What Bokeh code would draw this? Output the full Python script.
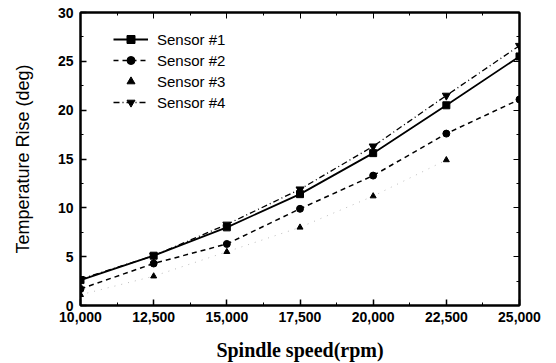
from bokeh.plotting import figure
from bokeh.models import LinearAxis, NumeralTickFormatter, Legend, LegendItem, FixedTicker
from bokeh.embed import file_html
from bokeh.resources import INLINE

speed = [10000, 12500, 15000, 17500, 20000, 22500, 25000]
sensor1 = [2.6, 5.1, 8.0, 11.4, 15.6, 20.5, 25.5]
sensor2 = [1.7, 4.3, 6.3, 9.9, 13.3, 17.6, 21.1]
speed3 = [10000, 12500, 15000, 17500, 20000, 22500]
sensor3 = [1.1, 3.0, 5.5, 8.0, 11.2, 14.9]
sensor4 = [2.7, 5.1, 8.3, 11.9, 16.3, 21.5, 26.6]
x_ticks = [10000, 12500, 15000, 17500, 20000, 22500, 25000]
x_minor = [11250, 13750, 16250, 18750, 21250, 23750]
y_ticks = [0, 5, 10, 15, 20, 25, 30]
y_minor = [2.5, 7.5, 12.5, 17.5, 22.5, 27.5]

p = figure(width=556, height=363, output_backend="svg", toolbar_location=None,
           x_range=(10000, 25000), y_range=(0, 30),
           min_border_left=80, min_border_right=37, min_border_top=12, min_border_bottom=57)
p.background_fill_color = "white"
p.border_fill_color = "white"
p.outline_line_color = "black"
p.outline_line_width = 2
p.grid.visible = False

r1l = p.line(speed, sensor1, line_color="black", line_width=1.8)
r1m = p.scatter(speed, sensor1, marker="square", size=7, color="black")
r2l = p.line(speed, sensor2, line_color="black", line_width=1.5, line_dash="5 4")
r2m = p.scatter(speed, sensor2, marker="circle", size=7, color="black")
r3l = p.line(speed3, sensor3, line_color="#bbbbbb", line_width=1, line_dash="1 6")
r3m = p.scatter(speed3, sensor3, marker="triangle", size=6, color="black")
r4l = p.line(speed, sensor4, line_color="black", line_width=1.3, line_dash="6 3 1 3")
r4m = p.scatter(speed, sensor4, marker="inverted_triangle", size=8, color="black")

for ax in [p.xaxis[0], p.yaxis[0]]:
    ax.axis_line_width = 2
    ax.major_tick_in = 6
    ax.major_tick_out = 0
    ax.minor_tick_in = 3
    ax.minor_tick_out = 0
    ax.major_tick_line_width = 1.5
    ax.major_label_text_font = "Liberation Sans"
    ax.major_label_text_font_size = "14px"
    ax.major_label_text_color = "black"
    ax.major_label_text_font_style = "bold"

p.xaxis[0].ticker = FixedTicker(ticks=x_ticks, minor_ticks=x_minor)
p.xaxis[0].formatter = NumeralTickFormatter(format="0,0")
p.xaxis[0].major_label_standoff = 6
p.xaxis[0].axis_label = "Spindle speed(rpm)"
p.xaxis[0].axis_label_text_font = "Liberation Serif"
p.xaxis[0].axis_label_text_font_size = "20px"
p.xaxis[0].axis_label_text_font_style = "bold"
p.xaxis[0].axis_label_text_color = "black"
p.xaxis[0].axis_label_standoff = 14

p.yaxis[0].ticker = FixedTicker(ticks=y_ticks, minor_ticks=y_minor)
p.yaxis[0].major_label_standoff = 7
p.yaxis[0].axis_label = "Temperature Rise (deg)"
p.yaxis[0].axis_label_text_font = "Liberation Sans"
p.yaxis[0].axis_label_text_font_size = "18px"
p.yaxis[0].axis_label_text_font_style = "normal"
p.yaxis[0].axis_label_text_color = "black"
p.yaxis[0].axis_label_standoff = 22

top = LinearAxis(ticker=FixedTicker(ticks=x_ticks, minor_ticks=x_minor),
                 major_label_overrides={t: "" for t in x_ticks},
                 major_tick_in=6, major_tick_out=0,
                 minor_tick_in=3, minor_tick_out=0, axis_line_width=2)
right = LinearAxis(ticker=FixedTicker(ticks=y_ticks, minor_ticks=y_minor),
                   major_label_overrides={t: "" for t in y_ticks},
                   major_tick_in=6, major_tick_out=0,
                   minor_tick_in=3, minor_tick_out=0, axis_line_width=2)
p.add_layout(top, "above")
p.add_layout(right, "right")

legend = Legend(items=[
    LegendItem(label="Sensor #1", renderers=[r1l, r1m]),
    LegendItem(label="Sensor #2", renderers=[r2l, r2m]),
    LegendItem(label="Sensor #3", renderers=[r3m]),
    LegendItem(label="Sensor #4", renderers=[r4l, r4m]),
], location=(33, 193))
legend.border_line_alpha = 0
legend.background_fill_alpha = 0
legend.padding = 0
legend.margin = 0
legend.spacing = 1
legend.glyph_width = 35
legend.glyph_height = 20
legend.label_height = 20
legend.label_standoff = 9
legend.label_text_font = "Liberation Sans"
legend.label_text_font_size = "15px"
legend.label_text_color = "black"
p.add_layout(legend, "center")

open("out.html", "w").write(file_html(p, INLINE))
